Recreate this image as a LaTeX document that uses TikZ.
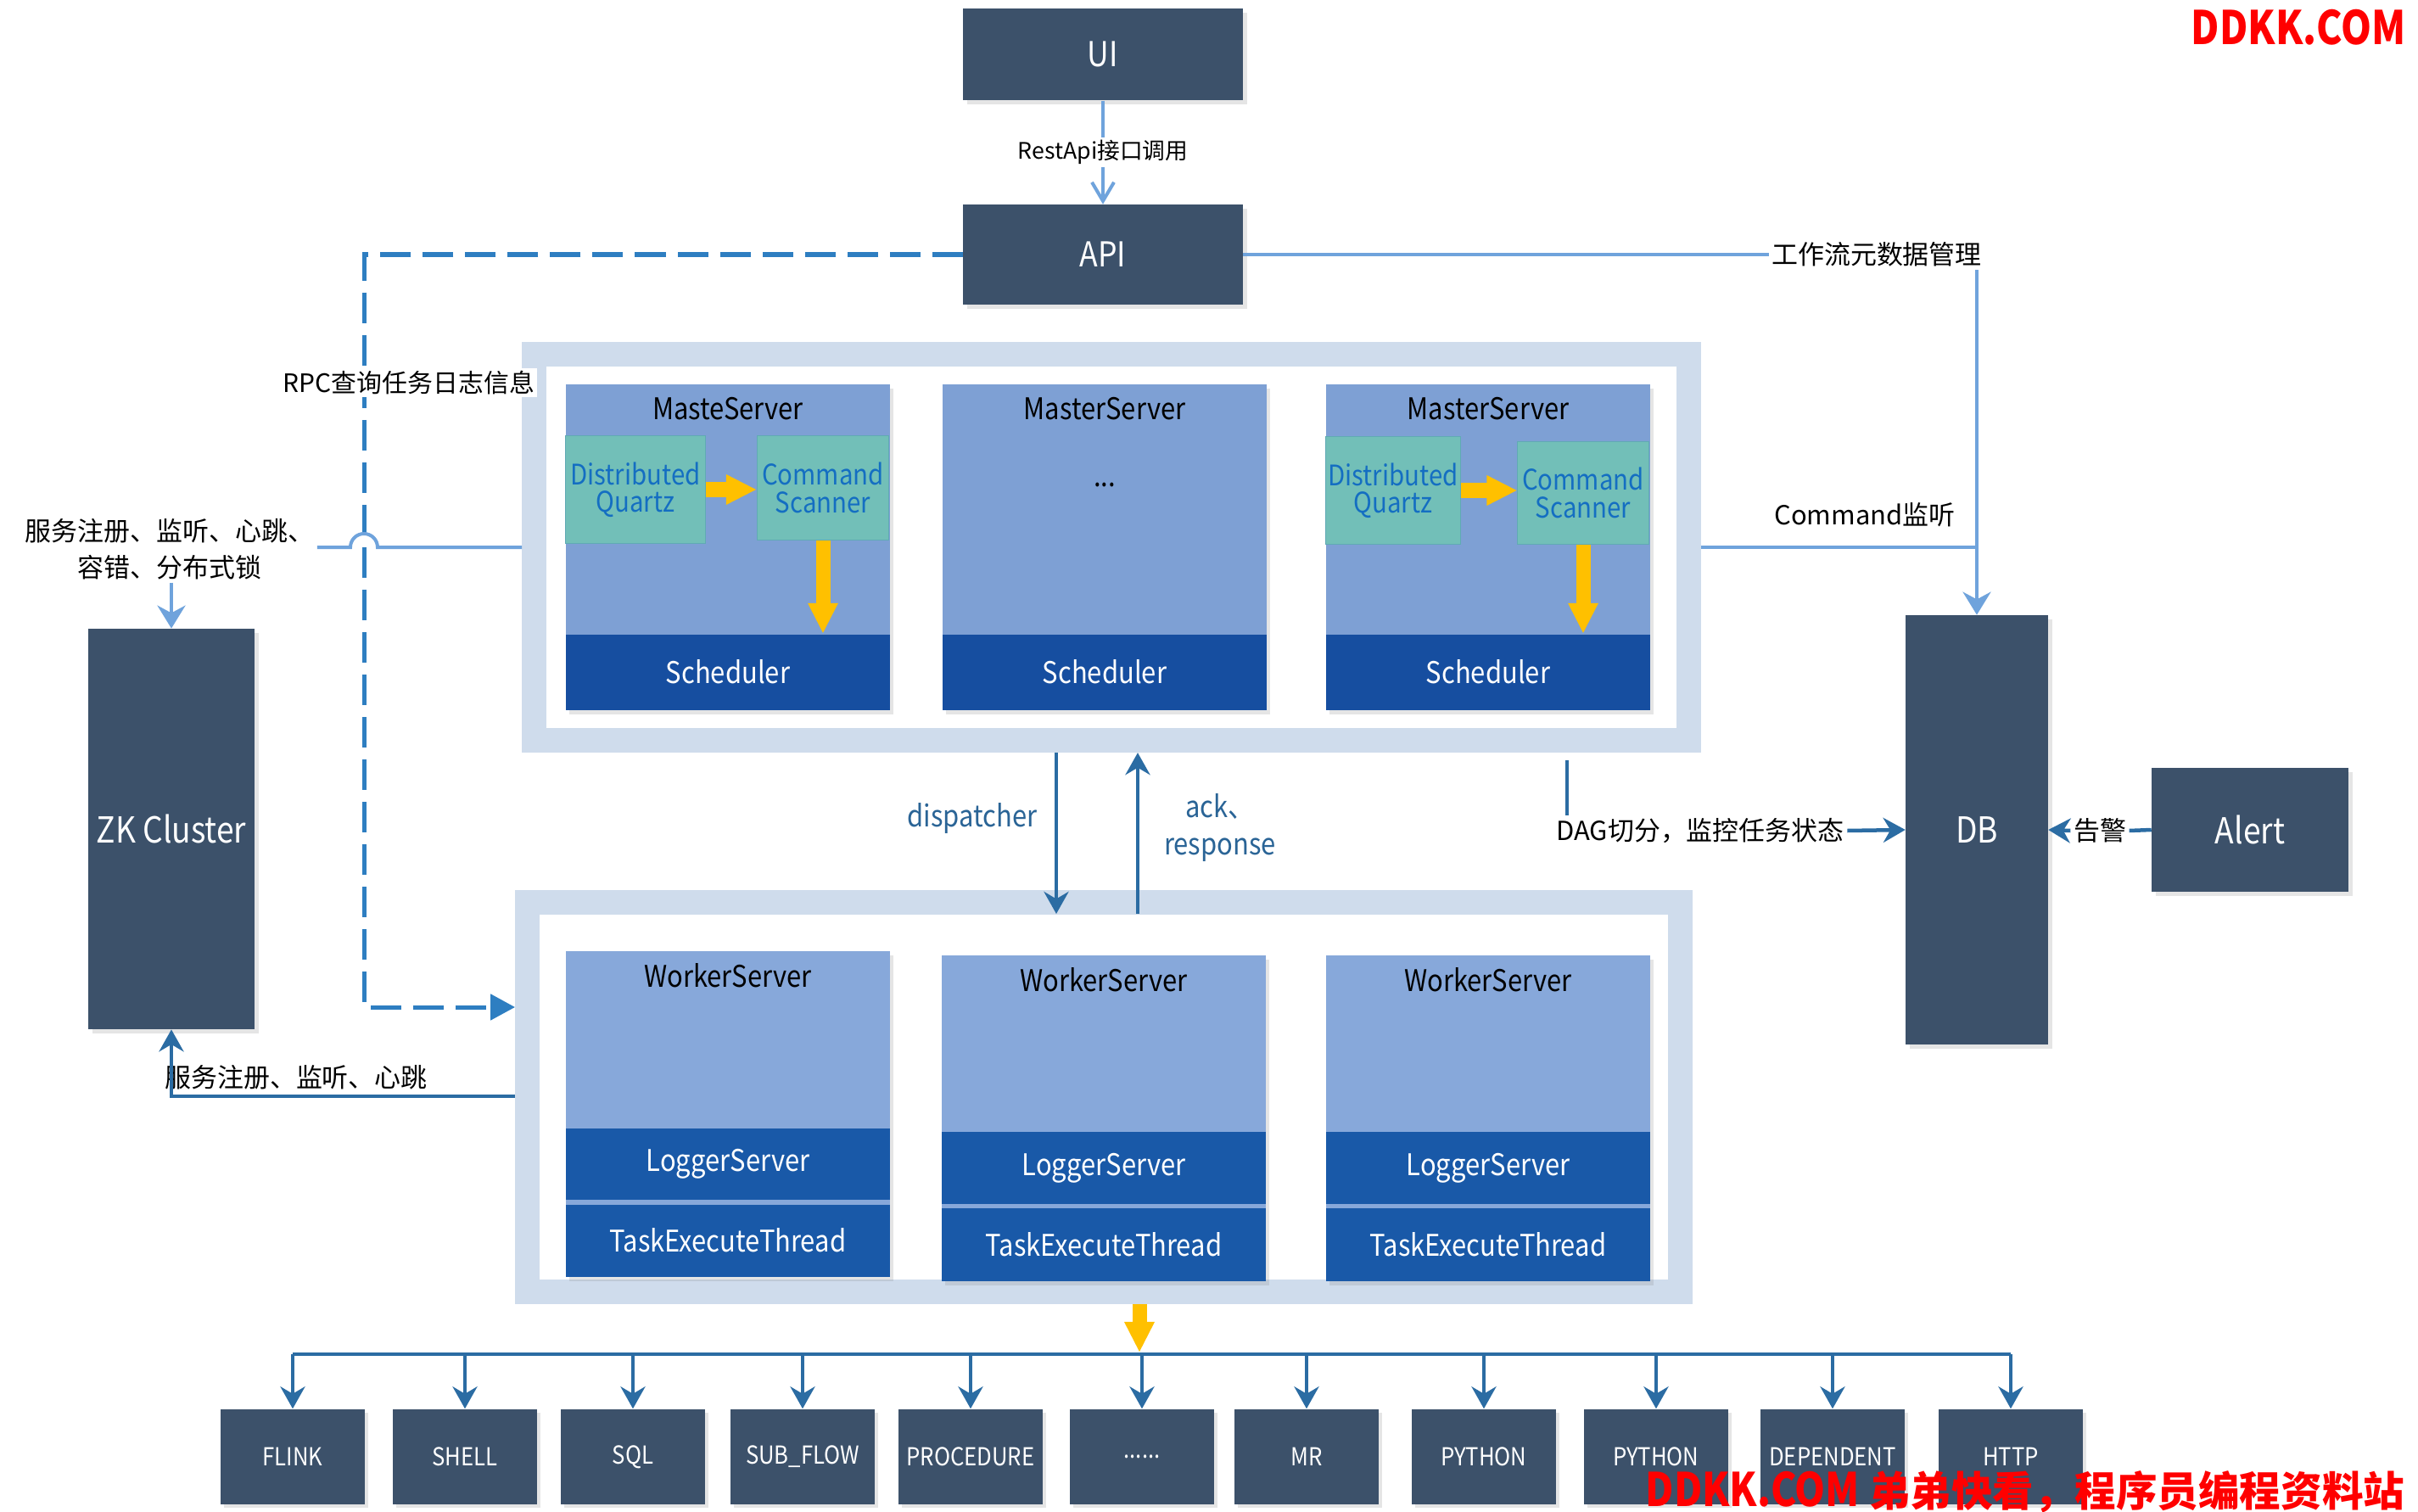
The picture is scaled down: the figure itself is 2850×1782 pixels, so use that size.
\documentclass[tikz,border=0pt]{standalone}
\usepackage{fontspec}
\setmainfont{Noto Sans CJK SC}
\newfontfamily\lat[FakeStretch=0.88]{Noto Sans CJK SC}
\newfontfamily\latc[FakeStretch=0.84]{Noto Sans CJK SC}
\usetikzlibrary{arrows.meta,shadows}

\definecolor{cslate}{RGB}{60,81,106}
\definecolor{cmaster}{RGB}{126,160,212}
\definecolor{cworker}{RGB}{135,168,218}
\definecolor{csched}{RGB}{22,78,160}
\definecolor{clogger}{RGB}{25,89,168}
\definecolor{cqtz}{RGB}{114,191,184}
\definecolor{cqtzedge}{RGB}{96,170,180}
\definecolor{cqtztext}{RGB}{20,110,194}
\definecolor{cband}{RGB}{207,220,236}
\definecolor{clight}{RGB}{111,163,220}
\definecolor{cdash}{RGB}{46,126,193}
\definecolor{clink}{RGB}{43,108,163}
\definecolor{clbl}{RGB}{42,100,150}
\definecolor{cgold}{RGB}{255,192,0}

\begin{document}
\begin{tikzpicture}[x=0.01cm,y=-0.01cm,
  slatebox/.style={fill=cslate,text=white,inner sep=0pt,font=\lat\fontsize{11.5}{14}\selectfont,
    drop shadow={shadow xshift=0.05cm,shadow yshift=-0.05cm,opacity=0.2}},
  frame/.style={draw=cband,fill=white,line width=0.29cm,inner sep=0pt},
  srvbody/.style={minimum width=3.82cm,minimum height=3.83cm,inner sep=0pt,
    drop shadow={shadow xshift=0.04cm,shadow yshift=-0.05cm,opacity=0.2}},
  layer/.style={text=white,minimum width=3.82cm,inner sep=0pt,font=\lat\fontsize{10}{12}\selectfont},
  qtz/.style={fill=cqtz,draw=cqtzedge,line width=0.01cm,text=cqtztext,align=center,inner sep=0pt,
    font=\lat\fontsize{9.5}{9.2}\selectfont},
  srvtitle/.style={font=\lat\fontsize{10}{12}\selectfont},
  cnlbl/.style={fill=white,inner sep=0.03cm,font=\fontsize{8.8}{12.2}\selectfont},
  bluelbl/.style={text=clbl,align=center,font=\lat\fontsize{10}{12.5}\selectfont},
  taskbox/.style={fill=cslate,text=white,minimum width=1.70cm,minimum height=1.12cm,inner sep=0pt,
    font=\lat\fontsize{8.3}{10}\selectfont,
    drop shadow={shadow xshift=0.04cm,shadow yshift=-0.04cm,opacity=0.2}},
  thinln/.style={draw=clight,line width=0.04cm},
  thinarr/.style={thinln,-{Stealth[length=0.27cm,width=0.33cm]}},
  linkln/.style={draw=clink,line width=0.045cm},
  linkarr/.style={linkln,-{Stealth[length=0.26cm,width=0.29cm]}},
  goldarr/.style={draw=cgold,line width=0.17cm,-{Triangle[length=0.36cm,width=0.33cm]}},
  rpcline/.style={draw=cdash,line width=0.05cm,dash pattern=on 0.36cm off 0.14cm,
    -{Triangle[length=0.29cm,width=0.30cm]}},
  wmark/.style={text=red,font=\fontsize{13.8}{18}\selectfont\bfseries}
]
\useasboundingbox (0,0) rectangle (2850,1782);
\fill [white] (0,0) rectangle (2850,1782);

% UI and API
\node[slatebox,minimum width=3.29cm,minimum height=1.08cm] (ui) at (1300,64) {UI};
\node[slatebox,minimum width=3.29cm,minimum height=1.17cm] (api) at (1300,300) {API};
\draw[thinln,-{Straight Barb[length=0.22cm,width=0.26cm]}] (ui) -- (api)
  node[cnlbl,pos=0.5,font=\fontsize{7.6}{10}\selectfont] (restlbl) {RestApi接口调用};

% Frames
\node[frame,minimum width=13.60cm,minimum height=4.55cm] (mo) at (1310,645) {};
\node[frame,minimum width=13.58cm,minimum height=4.58cm] (wo) at (1301,1293) {};

% Master servers
\node[srvbody,fill=cmaster] (ms1) at (858,645) {};
\node[layer,fill=csched,minimum height=0.89cm,anchor=south] (sch1) at (ms1.south) {Scheduler};
\node[srvtitle] (ms1t) at ([yshift=-0.29cm]ms1.north) {MasteServer};
\node[qtz,minimum width=1.64cm,minimum height=1.26cm] (dq1) at (749,577) {Distributed\\Quartz};
\node[qtz,minimum width=1.55cm,minimum height=1.22cm] (cs1) at (970,575) {Command\\Scanner};
\draw[goldarr] (dq1.east) -- (dq1.east -| cs1.west);
\draw[goldarr] (cs1.south) -- (cs1.south |- sch1.north);

\node[srvbody,fill=cmaster] (ms2) at (1302,645) {};
\node[layer,fill=csched,minimum height=0.89cm,anchor=south] (sch2) at (ms2.south) {Scheduler};
\node[srvtitle] (ms2t) at ([yshift=-0.29cm]ms2.north) {MasterServer};
\node[srvtitle] (ms2d) at (1302,572) {...};

\node[srvbody,fill=cmaster] (ms3) at (1754,645) {};
\node[layer,fill=csched,minimum height=0.89cm,anchor=south] (sch3) at (ms3.south) {Scheduler};
\node[srvtitle] (ms3t) at ([yshift=-0.29cm]ms3.north) {MasterServer};
\node[qtz,minimum width=1.58cm,minimum height=1.26cm] (dq3) at (1642,578) {Distributed\\Quartz};
\node[qtz,minimum width=1.54cm,minimum height=1.20cm] (cs3) at (1866,581) {Command\\Scanner};
\draw[goldarr] (dq3.east) -- (dq3.east -| cs3.west);
\draw[goldarr] (cs3.south) -- (cs3.south |- sch3.north);

% Worker servers
\node[srvbody,fill=cworker] (ws1) at (858,1313) {};
\node[layer,fill=clogger,minimum height=0.85cm,anchor=south] (tet1) at (ws1.south) {TaskExecuteThread};
\node[layer,fill=clogger,minimum height=0.84cm,anchor=south] (log1) at ([yshift=0.04cm]tet1.north) {LoggerServer};
\node[srvtitle] (ws1t) at ([yshift=-0.29cm]ws1.north) {WorkerServer};

\node[srvbody,fill=cworker] (ws2) at (1301,1318) {};
\node[layer,fill=clogger,minimum height=0.86cm,anchor=south] (tet2) at (ws2.south) {TaskExecuteThread};
\node[layer,fill=clogger,minimum height=0.85cm,anchor=south] (log2) at ([yshift=0.03cm]tet2.north) {LoggerServer};
\node[srvtitle] (ws2t) at ([yshift=-0.29cm]ws2.north) {WorkerServer};

\node[srvbody,fill=cworker] (ws3) at (1754,1318) {};
\node[layer,fill=clogger,minimum height=0.86cm,anchor=south] (tet3) at (ws3.south) {TaskExecuteThread};
\node[layer,fill=clogger,minimum height=0.85cm,anchor=south] (log3) at ([yshift=0.03cm]tet3.north) {LoggerServer};
\node[srvtitle] (ws3t) at ([yshift=-0.29cm]ws3.north) {WorkerServer};

% ZK, DB, Alert
\node[slatebox,minimum width=1.95cm,minimum height=4.71cm,font=\lat\fontsize{12}{14}\selectfont] (zk) at (202,977) {ZK Cluster};
\node[slatebox,minimum width=1.67cm,minimum height=5.05cm,font=\lat\fontsize{12}{14}\selectfont] (db) at (2330,978) {DB};
\node[slatebox,minimum width=2.31cm,minimum height=1.46cm,font=\lat\fontsize{12}{14}\selectfont] (alert) at (2652,978) {Alert};

% RPC to workers
\coordinate (rpcA) at (429,300);
\coordinate (rpcB) at (429,1187);
\draw[rpcline] (api.west) -- (rpcA) -- (rpcB) -- (rpcB -| wo.west);
\node[cnlbl,font=\fontsize{8.5}{12}\selectfont] (rpclbl) at (482,451) {RPC查询任务日志信息};

% Registry with ZK
\node[cnlbl,align=center] (zklbl) at (200,647) {服务注册、监听、心跳、\\容错、分布式锁};
\coordinate (hopR) at (445,645);
\draw[thinln] (mo.west |- hopR) -- (hopR) arc[start angle=0,end angle=180,radius=0.16cm]
  -- (hopR -| zklbl.east);
\draw[thinarr] (zklbl.south -| zk.north) -- (zk.north);

\node[font=\fontsize{8.8}{11}\selectfont] (wklbl) at (349,1270) {服务注册、监听、心跳};
\coordinate (zkb) at (202,1292);
\draw[linkarr] (wo.west |- zkb) -- (zkb) -- (zk.south);

% Metadata and command listening
\node[cnlbl] (wflbl) at (2212,300) {工作流元数据管理};
\draw[thinln] (api.east) -- (wflbl.west);
\draw[thinarr] (wflbl.south -| db.north) -- (db.north);
\node[cnlbl] (cmdlbl) at (2198,607) {Command监听};
\draw[thinln] (mo.east) -- (mo.east -| db.north);

% DAG and alert
\coordinate (dagtop) at (1847,896);
\node[cnlbl] (daglbl) at (2004,979) {DAG切分，监控任务状态};
\draw[linkln] (dagtop) -- (dagtop |- daglbl.north);
\draw[linkarr] (daglbl.east) -- (db.west);
\node[cnlbl] (alertlbl) at (2475,979) {告警};
\draw[linkln] (alert.west) -- (alertlbl.east);
\draw[linkarr] (alertlbl.west) -- (db.east);

% Master <-> worker
\coordinate (dsp) at (1245,1077);
\coordinate (ack) at (1341,1077);
\draw[linkarr] (mo.south -| dsp) -- (dsp);
\draw[linkarr] (ack) -- (ack |- mo.south);
\node[bluelbl] (dsplbl) at (1146,965) {dispatcher};
\node[bluelbl] (acklbl) at (1438,976) {ack、\\response};

% Task types
\node[taskbox] (t1) at (345,1717) {FLINK};
\node[taskbox] (t2) at (548,1717) {SHELL};
\node[taskbox] (t3) at (746,1717) {SQL};
\node[taskbox] (t4) at (946,1717) {SUB\_FLOW};
\node[taskbox] (t5) at (1144,1717) {PROCEDURE};
\node[taskbox] (t6) at (1346,1717) {......};
\node[taskbox] (t7) at (1540,1717) {MR};
\node[taskbox] (t8) at (1749,1717) {PYTHON};
\node[taskbox] (t9) at (1952,1717) {PYTHON};
\node[taskbox] (t10) at (2160,1717) {DEPENDENT};
\node[taskbox] (t11) at (2370,1717) {HTTP};

\coordinate (bus) at (0,1596);
\draw[linkln] (bus -| t1) -- (bus -| t11);
\draw[linkarr] (bus -| t1) -- (t1.north);
\draw[linkarr] (bus -| t2) -- (t2.north);
\draw[linkarr] (bus -| t3) -- (t3.north);
\draw[linkarr] (bus -| t4) -- (t4.north);
\draw[linkarr] (bus -| t5) -- (t5.north);
\draw[linkarr] (bus -| t6) -- (t6.north);
\draw[linkarr] (bus -| t7) -- (t7.north);
\draw[linkarr] (bus -| t8) -- (t8.north);
\draw[linkarr] (bus -| t9) -- (t9.north);
\draw[linkarr] (bus -| t10) -- (t10.north);
\draw[linkarr] (bus -| t11) -- (t11.north);
\coordinate (busY) at (1343,1594);
\draw[goldarr] (wo.south -| busY) -- (busY);

% Watermarks
\node[wmark,font=\latc\fontsize{15.5}{18}\selectfont\bfseries] (wmtop) at (2709,32) {DDKK.COM};
\node[wmark,anchor=base west,inner sep=0pt] (wmbot) at (1939,1775) {{\latc\fontsize{15.5}{18}\selectfont DDKK.COM} 弟弟快看，程序员编程资料站};
\end{tikzpicture}
\end{document}
